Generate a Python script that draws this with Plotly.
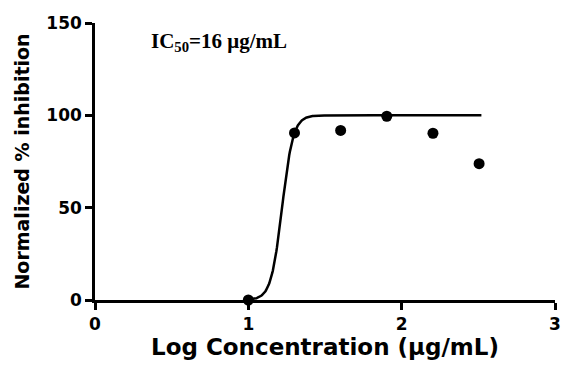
import numpy as np
import plotly.graph_objects as go

# Data
log_conc = [1.0, 1.301, 1.602, 1.903, 2.204, 2.505]
inhibition = [0.0, 90.5, 91.8, 99.5, 90.3, 73.8]

# Fitted sigmoid (dose-response) parameters
fit_bottom = 0.0
fit_top = 100.0
fit_log_ic50 = 1.22
fit_hill = 12.0
fit_x_start = 1.0
fit_x_end = 2.52

x_ticks = [0, 1, 2, 3]
y_ticks = [0, 50, 100, 150]

xf = np.linspace(fit_x_start, fit_x_end, 400)
yf = fit_bottom + (fit_top - fit_bottom) / (1 + 10 ** ((fit_log_ic50 - xf) * fit_hill))

fig = go.Figure()
fig.add_trace(go.Scatter(x=xf, y=yf, mode="lines",
                         line=dict(color="black", width=2.5),
                         hoverinfo="skip", cliponaxis=False))
fig.add_trace(go.Scatter(x=log_conc, y=inhibition, mode="markers",
                         marker=dict(color="black", size=11),
                         cliponaxis=False))

sans = "DejaVu Sans"
fig.update_layout(
    width=568, height=365,
    margin=dict(l=95, r=7, t=23, b=65),
    paper_bgcolor="white", plot_bgcolor="white",
    showlegend=False,
    xaxis=dict(range=[0, 3], tickvals=x_ticks, ticktext=["<b>%d</b>" % v for v in x_ticks],
               showline=True, linecolor="black", linewidth=2.5,
               ticks="outside", ticklen=7, tickwidth=2.5, tickcolor="black",
               showgrid=False, zeroline=False,
               tickfont=dict(family=sans, size=17, color="black"),
               title=dict(text="<b>Log Concentration (μg/mL)</b>",
                          font=dict(family=sans, size=23, color="black"),
                          standoff=4)),
    yaxis=dict(range=[0, 150], tickvals=y_ticks, ticktext=["<b>%d</b>" % v for v in y_ticks],
               showline=True, linecolor="black", linewidth=2.5,
               ticks="outside", ticklen=7, tickwidth=2.5, tickcolor="black",
               showgrid=False, zeroline=False,
               tickfont=dict(family=sans, size=17, color="black"),
               title=dict(text="<b>Normalized % inhibition</b>",
                          font=dict(family=sans, size=19, color="black"),
                          standoff=12)),
    annotations=[dict(text="<b>IC<sub>50</sub>=16 μg/mL</b>",
                      x=0.118, y=0.93, xref="paper", yref="paper",
                      showarrow=False, xanchor="left", yanchor="middle",
                      font=dict(family="Liberation Serif, Times New Roman", size=21, color="black"))],
)
fig.write_html("out.html")
